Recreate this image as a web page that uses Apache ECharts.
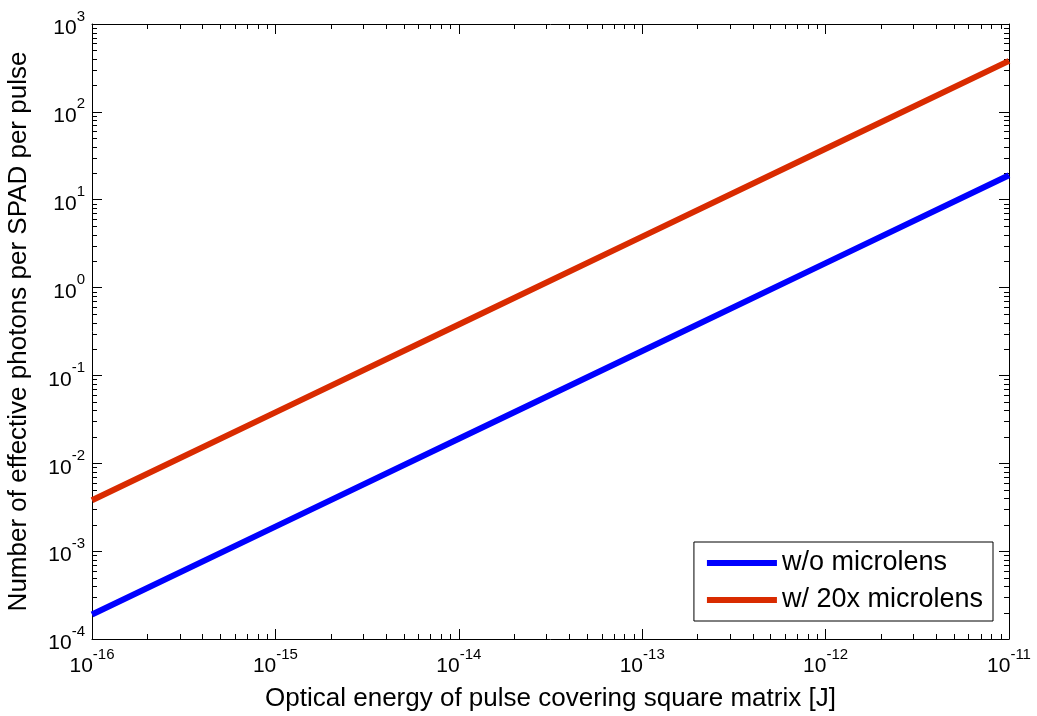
<!DOCTYPE html>
<html>
<head>
<meta charset="utf-8">
<script src="https://cdn.jsdelivr.net/npm/echarts@6/dist/echarts.min.js"></script>
<style>
  html, body { margin: 0; padding: 0; background: #fff; }
  #main { width: 1037px; height: 716px; }
</style>
</head>
<body>
<div id="main"></div>
<script>
// energy [J] (x) and photons per SPAD per pulse (y)
const energy = [1e-16, 1e-15, 1e-14, 1e-13, 1e-12, 1e-11];
const noLens = [1.9e-4, 1.9e-3, 1.9e-2, 0.19, 1.9, 19];
const withLens = [3.8e-3, 3.8e-2, 0.38, 3.8, 38, 380];
const seriesNames = ['w/o microlens', 'w/ 20x microlens'];
const xExp = [-16, -11];
const yExp = [-4, 3];

const FONT = 'Arial, "Liberation Sans", Helvetica, sans-serif';
const chart = echarts.init(document.getElementById('main'));

function powLabel(v) {
  const e = Math.round(Math.log10(v));
  return '{b|10}{s|' + e + '}';
}
// "10" sits at the bottom of the line, exponent at the top
const richLab = {
  b: { fontSize: 21, lineHeight: 30, verticalAlign: 'bottom', fontFamily: FONT, color: '#000' },
  s: { fontSize: 15, lineHeight: 30, verticalAlign: 'top', fontFamily: FONT, color: '#000' }
};

function logAxis(min, max, pos, show) {
  return {
    type: 'log',
    logBase: 10,
    min: min,
    max: max,
    position: pos,
    nameMoveOverlap: false,
    axisLine: { show: true, onZero: false, lineStyle: { color: '#000', width: 1 } },
    axisTick: { show: true, inside: true, length: 10, lineStyle: { color: '#000' } },
    axisLabel: show ? {
      show: true, formatter: powLabel, rich: richLab, lineHeight: 30,
      showMinLabel: true, showMaxLabel: true
    } : { show: false },
    splitLine: { show: false }
  };
}

const xBottom = logAxis(Math.pow(10, xExp[0]), Math.pow(10, xExp[1]), 'bottom', true);
xBottom.axisLabel.margin = 8;
xBottom.name = 'Optical energy of pulse covering square matrix [J]';
xBottom.nameLocation = 'middle';
xBottom.nameGap = 47;
xBottom.nameTextStyle = { fontSize: 26, fontFamily: FONT, color: '#000' };

const yLeft = logAxis(Math.pow(10, yExp[0]), Math.pow(10, yExp[1]), 'left', true);
yLeft.axisLabel.margin = 7;
yLeft.name = 'Number of effective photons per SPAD per pulse';
yLeft.nameLocation = 'middle';
yLeft.nameGap = 60;
yLeft.nameTextStyle = { fontSize: 26, fontFamily: FONT, color: '#000' };

const option = {
  animation: false,
  backgroundColor: '#fff',
  grid: { left: 92, right: 28, top: 24, bottom: 77, containLabel: false, outerBoundsMode: 'none' },
  xAxis: [xBottom, logAxis(Math.pow(10, xExp[0]), Math.pow(10, xExp[1]), 'top', false)],
  yAxis: [yLeft, logAxis(Math.pow(10, yExp[0]), Math.pow(10, yExp[1]), 'right', false)],
  legend: {
    orient: 'vertical',
    right: 44,
    bottom: 95,
    data: seriesNames,
    icon: 'rect',
    itemWidth: 70,
    itemHeight: 6,
    itemGap: 9,
    padding: [7, 10, 7, 13],
    borderColor: '#000',
    borderWidth: 1,
    borderRadius: 0,
    backgroundColor: '#fff',
    textStyle: { fontSize: 27, fontFamily: FONT, color: '#000', lineHeight: 28 }
  },
  series: [
    {
      name: seriesNames[0], type: 'line', showSymbol: false,
      data: energy.map((x, i) => [x, noLens[i]]),
      lineStyle: { color: '#0000ff', width: 6 }, itemStyle: { color: '#0000ff' }
    },
    {
      name: seriesNames[1], type: 'line', showSymbol: false,
      data: energy.map((x, i) => [x, withLens[i]]),
      lineStyle: { color: '#d92b00', width: 6 }, itemStyle: { color: '#d92b00' }
    }
  ]
};
chart.setOption(option);

// minor ticks (2..9 per decade), placed through the axes' own scales
const els = [];
const x0 = chart.convertToPixel({ xAxisIndex: 0 }, Math.pow(10, xExp[0]));
const x1 = chart.convertToPixel({ xAxisIndex: 0 }, Math.pow(10, xExp[1]));
const y0 = chart.convertToPixel({ yAxisIndex: 0 }, Math.pow(10, yExp[0]));
const y1 = chart.convertToPixel({ yAxisIndex: 0 }, Math.pow(10, yExp[1]));
const st = { stroke: '#000', lineWidth: 1 };
for (let e = xExp[0]; e < xExp[1]; e++) {
  for (let m = 2; m <= 9; m++) {
    const px = Math.round(chart.convertToPixel({ xAxisIndex: 0 }, m * Math.pow(10, e))) + 0.5;
    els.push({ type: 'line', shape: { x1: px, y1: y0, x2: px, y2: y0 - 5 }, style: st, silent: true });
    els.push({ type: 'line', shape: { x1: px, y1: y1, x2: px, y2: y1 + 5 }, style: st, silent: true });
  }
}
for (let e = yExp[0]; e < yExp[1]; e++) {
  for (let m = 2; m <= 9; m++) {
    const py = Math.round(chart.convertToPixel({ yAxisIndex: 0 }, m * Math.pow(10, e))) + 0.5;
    els.push({ type: 'line', shape: { x1: x0, y1: py, x2: x0 + 5, y2: py }, style: st, silent: true });
    els.push({ type: 'line', shape: { x1: x1, y1: py, x2: x1 - 5, y2: py }, style: st, silent: true });
  }
}
chart.setOption({ graphic: els });
</script>
</body>
</html>
